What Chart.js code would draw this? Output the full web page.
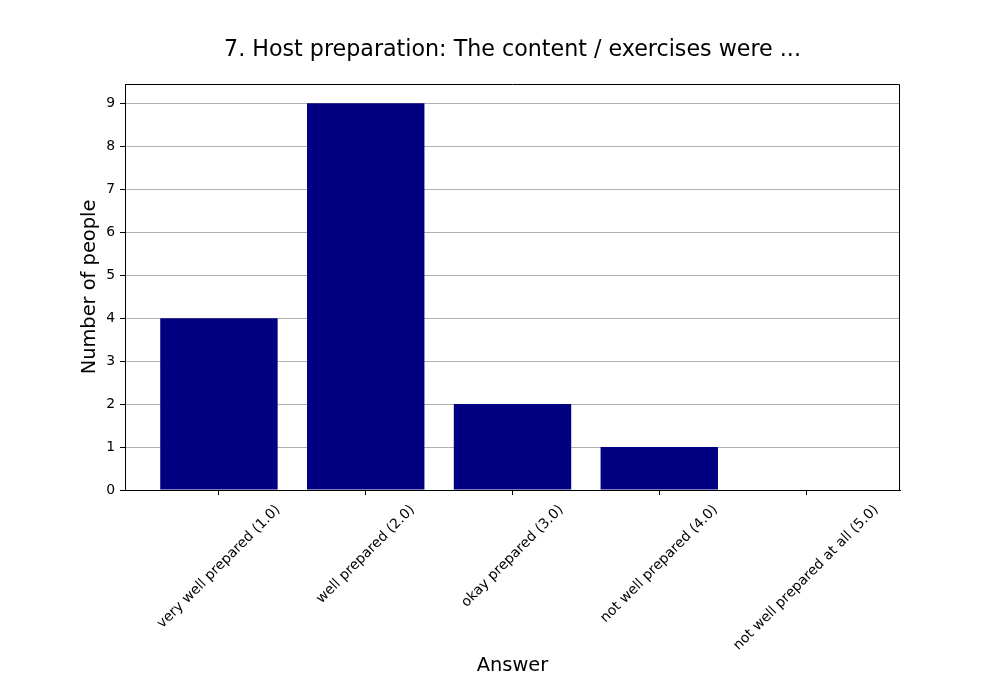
<!DOCTYPE html>
<html>
<head>
<meta charset="utf-8">
<script src="https://cdn.jsdelivr.net/npm/chart.js@4.4.1/dist/chart.umd.min.js"></script>
<style>
  body { margin: 0; background: #fff; }
  canvas { display: block; }
</style>
</head>
<body>
<canvas id="chart" width="1000" height="700"></canvas>
<script>
// datos
var chartTitle = '7. Host preparation: The content / exercises were ...';
var answers = ["very well prepared (1.0)", "well prepared (2.0)", "okay prepared (3.0)", "not well prepared (4.0)", "not well prepared at all (5.0)"];
var people = [4, 9, 2, 1, 0];
var yTicks = [0, 1, 2, 3, 4, 5, 6, 7, 8, 9];

var fontFam = "'DejaVu Sans', sans-serif";

// marco superior y derecho + titulo centrado sobre el area del grafico
var framePlugin = {
  id: 'frame',
  afterDatasetsDraw: function(chart) {
    var a = chart.chartArea, ctx = chart.ctx;
    ctx.save();
    ctx.strokeStyle = 'black';
    ctx.lineWidth = 1;
    ctx.beginPath();
    ctx.moveTo(Math.round(a.left) + 0.5, Math.round(a.top) + 0.5);
    ctx.lineTo(Math.round(a.right) - 0.5, Math.round(a.top) + 0.5);
    ctx.lineTo(Math.round(a.right) - 0.5, Math.round(a.bottom));
    ctx.stroke();

    ctx.font = "22.2px " + fontFam;
    ctx.fillStyle = 'black';
    ctx.textAlign = 'center';
    ctx.textBaseline = 'alphabetic';
    ctx.fillText(chartTitle, (a.left + a.right) / 2, 56);
    ctx.restore();
  }
};

// etiquetas del eje x rotadas 45 y centradas en el tick
var xLabelPlugin = {
  id: 'xlabels',
  afterDraw: function(chart) {
    var ctx = chart.ctx, xs = chart.scales.x;
    var size = 13.9;
    ctx.save();
    ctx.font = size + "px " + fontFam;
    ctx.fillStyle = 'black';
    ctx.textAlign = 'center';
    ctx.textBaseline = 'middle';
    for (var i = 0; i < answers.length; i++) {
      var w = ctx.measureText(answers[i]).width;
      var h = size * 1.15;
      var cx = xs.getPixelForValue(i);
      var cy = chart.chartArea.bottom + 12 + (w + h) * Math.SQRT1_2 / 2;
      ctx.save();
      ctx.translate(cx, cy);
      ctx.rotate(-Math.PI / 4);
      ctx.fillText(answers[i], 0, 0);
      ctx.restore();
    }
    ctx.restore();
  }
};

var ctx = document.getElementById('chart');
var chart = new Chart(ctx, {
  type: 'bar',
  data: {
    datasets: [{
      data: people.map(function(v, i) { return {x: i, y: v}; }),
      backgroundColor: '#000080',
      borderWidth: 0,
      barPercentage: 0.8,
      categoryPercentage: 1.0
    }]
  },
  options: {
    responsive: false,
    animation: false,
    devicePixelRatio: 1,
    layout: { padding: { left: 0, right: 100, top: 84, bottom: 0 } },
    plugins: {
      legend: { display: false },
      tooltip: { enabled: false },
      title: { display: false }
    },
    scales: {
      x: {
        type: 'linear',
        min: -0.64,
        max: 4.64,
        offset: false,
        afterBuildTicks: function(scale) {
          scale.ticks = answers.map(function(a, i) { return {value: i}; });
        },
        afterFit: function(scale) { scale.height = 210; },
        grid: { offset: false, drawOnChartArea: false, tickColor: 'black', tickLength: 5, tickWidth: 1 },
        border: { color: 'black', width: 1 },
        ticks: { display: false },
        title: {
          display: true,
          text: 'Answer',
          color: 'black',
          font: { family: fontFam, size: 19.4, lineHeight: 1.2 },
          padding: { top: 0, bottom: 22.35 }
        }
      },
      y: {
        min: 0,
        max: 9.45,
        afterBuildTicks: function(scale) {
          scale.ticks = yTicks.map(function(v) { return {value: v}; });
        },
        afterFit: function(scale) { scale.width = 125; },
        grid: { color: '#b0b0b0', lineWidth: 1, tickColor: 'black', tickLength: 5 },
        border: { color: 'black', width: 1 },
        ticks: {
          color: 'black',
          padding: 5,
          font: { family: fontFam, size: 13.9 }
        },
        title: {
          display: true,
          text: 'Number of people',
          color: 'black',
          font: { family: fontFam, size: 19.4, lineHeight: 1.2 },
          padding: { top: 78.35, bottom: 0 }
        }
      }
    }
  },
  plugins: [framePlugin, xLabelPlugin]
});
</script>
</body>
</html>
